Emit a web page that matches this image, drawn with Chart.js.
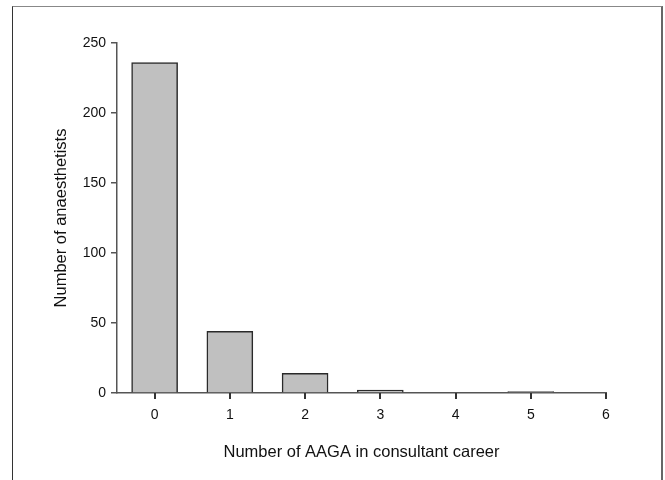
<!DOCTYPE html>
<html>
<head>
<meta charset="utf-8">
<script src="https://cdn.jsdelivr.net/npm/chart.js@4/dist/chart.umd.min.js"></script>
<style>
  body { margin: 0; background: #fff; }
  #wrap { position: relative; width: 665px; height: 480px; overflow: hidden; }
  #frame {
    position: absolute; left: 12px; top: 6px; width: 648px; height: 520px;
    border-left: 1.5px solid #333; border-top: 1.5px solid #888; border-right: 2px solid #666;
  }
  #myChart { position: absolute; left: 0; top: 0; }
</style>
</head>
<body>
<div id="wrap">
  <div id="frame"></div>
  <canvas id="myChart" width="665" height="480"></canvas>
</div>
<script>
// number of AAGA in consultant career
const kategori = [0, 1, 2, 3, 4, 5, 6];
const jumlah = [236, 44, 14, 2, 0, 1, 0];
const yTicks = [0, 50, 100, 150, 200, 250];

const titik = kategori.map((k, i) => ({x: k, y: jumlah[i]}));

const fontUmum = {family: "'Liberation Sans', Arial, sans-serif", size: 14};
const fontJudul = {family: "'Liberation Sans', Arial, sans-serif", size: 16.5};

// tick marks under the x axis
const tandaX = {
  id: "tandaX",
  afterDraw(chart) {
    const sx = chart.scales.x;
    const bawah = chart.chartArea.bottom;
    const c = chart.ctx;
    c.save();
    c.fillStyle = "#333";
    kategori.forEach((v) => {
      const px = Math.round(sx.getPixelForValue(v));
      c.fillRect(px - 1, bawah, 2, 6);
    });
    c.restore();
  },
};

const data = {
  datasets: [
    {
      label: "Anaesthetists",
      data: titik,
      backgroundColor: "#c0c0c0",
      borderColor: "#2a2a2a",
      borderWidth: 1.5,
      borderSkipped: "bottom",
      barThickness: 46,
    },
  ],
};

const config = {
  type: "bar",
  data: data,
  plugins: [tandaX],
  options: {
    responsive: false,
    animation: false,
    layout: {
      padding: {top: 43, left: 0, right: 59, bottom: 0},
    },
    plugins: {
      legend: {display: false},
      tooltip: {enabled: false},
    },
    scales: {
      x: {
        type: "linear",
        min: -0.5,
        max: 6,
        offset: false,
        afterBuildTicks: (scale) => {
          scale.ticks = kategori.map((v) => ({value: v}));
        },
        afterFit: (scale) => { scale.height = 87; },
        ticks: {
          color: "#111",
          font: fontUmum,
          padding: 6,
          callback: (v) => String(v),
        },
        grid: {display: false},
        border: {display: true, color: "#555", width: 1.5},
        title: {
          display: true,
          text: "Number of AAGA in consultant career",
          color: "#111",
          font: fontJudul,
          padding: {top: 0, bottom: 18},
        },
      },
      y: {
        min: 0,
        max: 250,
        afterBuildTicks: (scale) => {
          scale.ticks = yTicks.map((v) => ({value: v}));
        },
        afterFit: (scale) => { scale.width = 117; },
        ticks: {
          color: "#111",
          font: fontUmum,
          padding: 5,
        },
        grid: {
          display: true,
          drawOnChartArea: false,
          drawTicks: true,
          tickLength: 6,
          color: "#555",
          lineWidth: 1.5,
        },
        border: {display: true, color: "#555", width: 1.5},
        title: {
          display: true,
          text: "Number of anaesthetists",
          color: "#111",
          font: fontJudul,
          padding: {top: 52, bottom: 0},
        },
      },
    },
  },
};

const ctx = document.getElementById("myChart");
const myChart = new Chart(ctx, config);
</script>
</body>
</html>
